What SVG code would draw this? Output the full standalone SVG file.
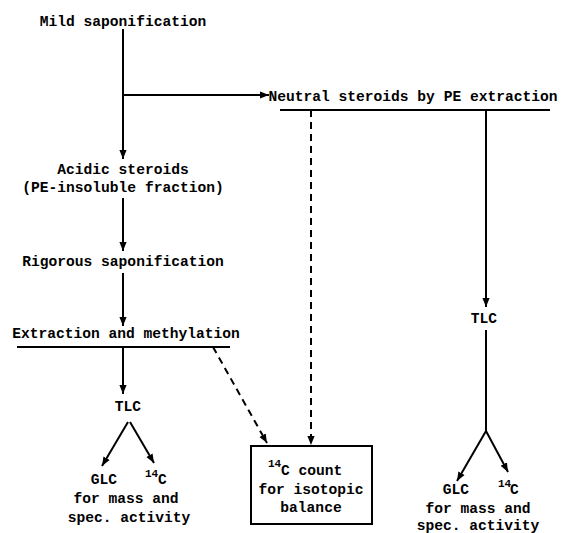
<svg xmlns="http://www.w3.org/2000/svg" width="562" height="533" viewBox="0 0 562 533">
<defs>
<marker id="ah" viewBox="0 0 10 10" refX="10" refY="5" markerWidth="9" markerHeight="9" markerUnits="userSpaceOnUse" orient="auto">
<path d="M0,1 L10,5 L0,9 z" fill="#000"/>
</marker>
</defs>
<style>
text{font-family:"Liberation Mono","DejaVu Sans Mono",monospace;font-weight:bold;font-size:14.6px;fill:#000}
.c{text-anchor:middle}
.sup{font-size:11px}
line,path.l{stroke:#000;stroke-width:2;fill:none}
.d{stroke-dasharray:7,5}
.a{marker-end:url(#ah)}
rect{fill:#fff;stroke:#000;stroke-width:2}
</style>
<rect x="0" y="0" width="562" height="533" style="stroke:none"/>
<g id="connectors">
<line x1="123" y1="29" x2="123" y2="159" class="a"/>
<line x1="123" y1="95" x2="269" y2="95" class="a"/>
<line x1="280" y1="110" x2="550" y2="110"/>
<line x1="311" y1="110" x2="311" y2="445" class="d a"/>
<line x1="486" y1="110" x2="486" y2="307" class="a"/>
<line x1="486" y1="330" x2="486" y2="431"/>
<line x1="486" y1="431" x2="457" y2="481" class="a"/>
<line x1="486" y1="431" x2="508" y2="472" class="a"/>
<line x1="123" y1="198" x2="123" y2="251" class="a"/>
<line x1="123" y1="273" x2="123" y2="326" class="a"/>
<line x1="17" y1="347" x2="230" y2="347"/>
<line x1="123" y1="347" x2="123" y2="394" class="a"/>
<line x1="213" y1="347" x2="267" y2="443" class="d a"/>
<line x1="128" y1="422" x2="102" y2="466" class="a"/>
<line x1="130" y1="422" x2="154" y2="463" class="a"/>
</g>
<g id="mild"><text x="123" y="26" class="c">Mild saponification</text></g>
<g id="neutral"><text x="413" y="101" class="c">Neutral steroids by PE extraction</text></g>
<g id="acidic"><text x="123" y="174" class="c">Acidic steroids</text><text x="123" y="192" class="c">(PE-insoluble fraction)</text></g>
<g id="rigorous"><text x="123" y="266" class="c">Rigorous saponification</text></g>
<g id="extraction"><text x="126" y="338" class="c">Extraction and methylation</text></g>
<g id="tlc-left"><text x="128" y="411" class="c">TLC</text></g>
<g id="glc-left"><text x="104" y="484" class="c">GLC</text></g>
<g id="c14-left"><text x="145" y="477" class="sup">14</text><text x="158" y="484">C</text></g>
<g id="mass-left"><text x="126" y="503" class="c">for mass and</text><text x="129" y="522" class="c">spec. activity</text></g>
<g id="box">
<rect x="251" y="446" width="121" height="78"/>
<text x="268" y="467" class="sup">14</text><text x="281" y="475">C count</text>
<text x="311" y="494" class="c">for isotopic</text>
<text x="311" y="512" class="c">balance</text>
</g>
<g id="tlc-right"><text x="484" y="323" class="c">TLC</text></g>
<g id="glc-right"><text x="456" y="494" class="c">GLC</text></g>
<g id="c14-right"><text x="498" y="487" class="sup">14</text><text x="510" y="494">C</text></g>
<g id="mass-right"><text x="478" y="513" class="c">for mass and</text><text x="478" y="530" class="c">spec. activity</text></g>
</svg>
